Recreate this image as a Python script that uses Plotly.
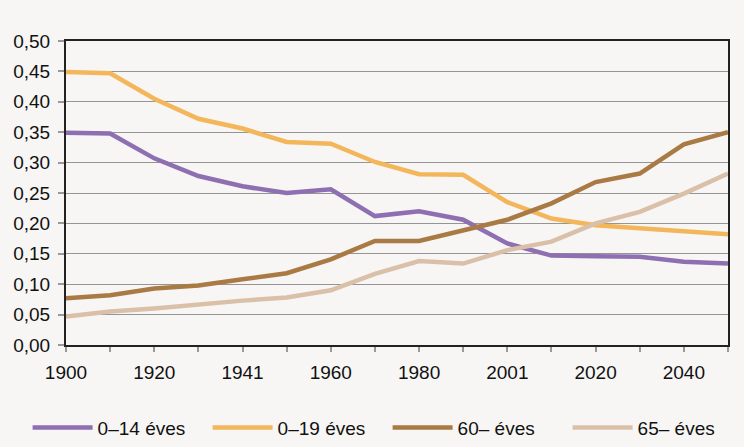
import plotly.graph_objects as go

years = ["1900", "1910", "1920", "1930", "1941", "1949", "1960", "1970",
         "1980", "1990", "2001", "2011", "2020", "2030", "2040", "2050"]
tick_labels = ["1900", "", "1920", "", "1941", "", "1960", "", "1980", "",
               "2001", "", "2020", "", "2040", ""]

age_0_14 = [0.349, 0.348, 0.307, 0.278, 0.261, 0.250, 0.256, 0.212,
            0.220, 0.206, 0.167, 0.147, 0.146, 0.145, 0.137, 0.134]
age_0_19 = [0.449, 0.447, 0.405, 0.372, 0.356, 0.334, 0.331, 0.301,
            0.281, 0.280, 0.235, 0.208, 0.197, 0.192, 0.188, 0.182]
age_60 = [0.077, 0.082, 0.093, 0.098, 0.108, 0.118, 0.141, 0.171,
          0.171, 0.189, 0.206, 0.233, 0.268, 0.282, 0.330, 0.350]
age_65 = [0.047, 0.055, 0.060, 0.067, 0.073, 0.078, 0.090, 0.117,
          0.138, 0.134, 0.156, 0.170, 0.200, 0.219, 0.249, 0.282]

names = ["0–14 éves", "0–19 éves", "60– éves", "65– éves"]
colors = ["#8E6FB2", "#F4B65A", "#A97A44", "#DAC0A8"]
series = [age_0_14, age_0_19, age_60, age_65]

fig = go.Figure()
for n, c, s in zip(names, colors, series):
    fig.add_trace(go.Scatter(x=years, y=s, name=n, mode="lines",
                             line=dict(color=c, width=4.5)))

bg = "#F7F6F4"
fam = "Liberation Sans, Arial, sans-serif"
fig.update_layout(
    width=736, height=439,
    margin=dict(l=58, r=16, t=33, b=102, autoexpand=False),
    paper_bgcolor=bg, plot_bgcolor=bg,
    separators=", ",
    font=dict(family=fam, size=19, color="#111111"),
    showlegend=True,
    legend=dict(orientation="h", x=-0.058, xanchor="left", y=-0.272, yanchor="middle",
                entrywidth=105, entrywidthmode="pixels", itemwidth=60,
                font=dict(family=fam, size=19, color="#111111"),
                bgcolor="rgba(0,0,0,0)"),
    xaxis=dict(type="category", tickmode="array", tickvals=years, ticktext=tick_labels,
               range=[0, len(years) - 1], showgrid=False, automargin=False,
               showline=True, linecolor="#222222", linewidth=2, mirror=True,
               ticks="outside", ticklen=5, tickcolor="#999999", tickwidth=1.5,
               ticklabelstandoff=4, zeroline=False),
    yaxis=dict(range=[0, 0.5], dtick=0.05, tickformat=".2f", automargin=False,
               showgrid=True, gridcolor="#959595", gridwidth=1.4,
               showline=True, linecolor="#222222", linewidth=2, mirror=True,
               ticks="outside", ticklen=6, tickcolor="#999999", tickwidth=1.5,
               ticklabelstandoff=4, zeroline=False),
)

fig.write_html("out.html",
               post_script="document.body.style.background='#F7F6F4';"
                           "document.documentElement.style.background='#F7F6F4';"
                           "document.body.style.overflow='hidden';")
